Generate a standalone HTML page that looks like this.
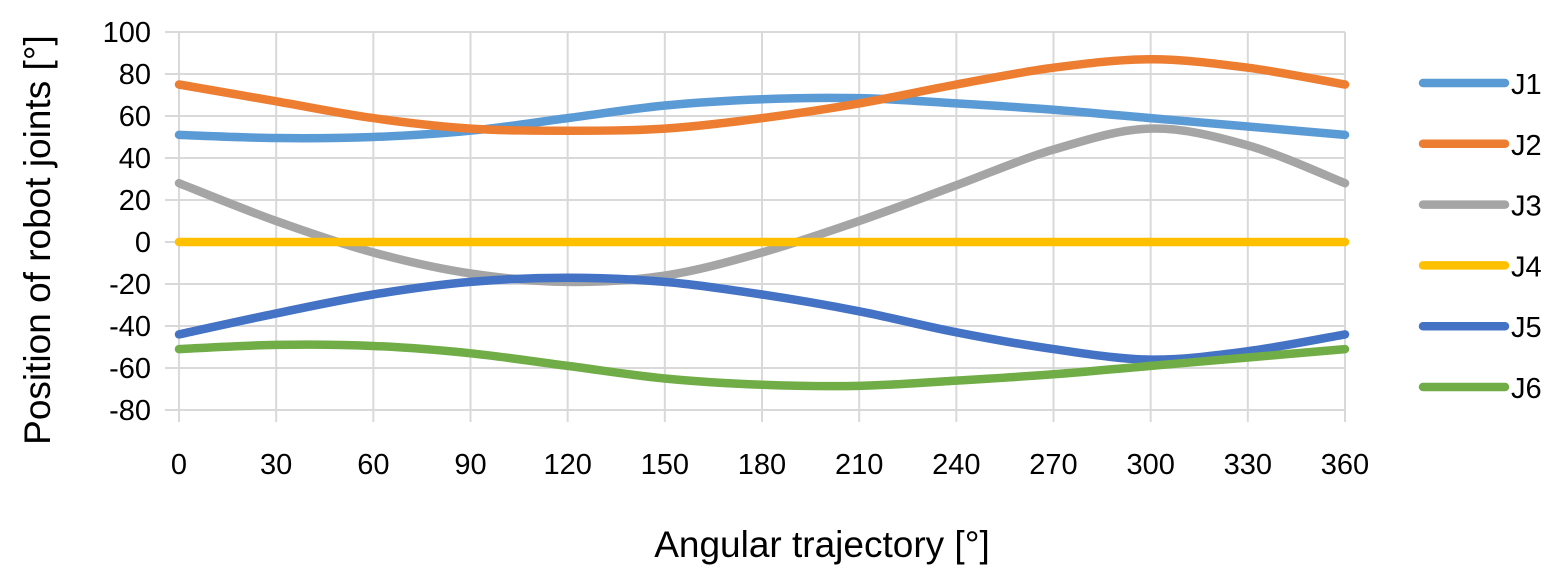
<!DOCTYPE html>
<html><head><meta charset="utf-8"><style>
body{margin:0;background:#fff;}
svg text{font-family:"Liberation Sans",sans-serif;fill:#000;}
</style></head><body>
<svg id="s" width="1551" height="574" xmlns="http://www.w3.org/2000/svg">
<g id="grid" stroke="#d9d9d9" stroke-width="2"></g>
<g id="lab" font-size="29"></g>
<g id="ser" fill="none" stroke-width="8.5" stroke-linecap="round" stroke-linejoin="round"></g>
<text x="822" y="557" font-size="37" text-anchor="middle">Angular trajectory [°]</text>
<text transform="translate(50,240) rotate(-90)" font-size="37" text-anchor="middle">Position of robot joints [°]</text>
<g id="leg" font-size="29"></g>
</svg>
<script>
const X=v=>179+v*(1345-179)/360, Y=v=>32+(100-v)*2.1;
const g=document.getElementById('grid'),lab=document.getElementById('lab');
let h='',t='';
for(let v=-80;v<=100;v+=20){h+=`<line x1="${X(0)-14}" x2="${X(360)}" y1="${Y(v)}" y2="${Y(v)}"/>`;t+=`<text x="${X(0)-28}" y="${Y(v)+10}" text-anchor="end">${v}</text>`;}
for(let a=0;a<=360;a+=30){h+=`<line x1="${X(a)}" x2="${X(a)}" y1="${Y(100)}" y2="${Y(-80)+12}"/>`;t+=`<text x="${X(a)}" y="${Y(-80)+64}" text-anchor="middle">${a}</text>`;}
g.innerHTML=h;lab.innerHTML=t;
const D={
J1:['#5b9bd5',[51,49.5,50,53,59,65,68,68.5,66,63,59,55,51]],
J2:['#ed7d31',[75,67,59,54,53,54,59,66,75,83,87,83,75]],
J3:['#a5a5a5',[28,10,-5,-15,-19,-16,-5,10,27,44,54,46,28]],
J4:['#ffc000',[0,0,0,0,0,0,0,0,0,0,0,0,0]],
J5:['#4472c4',[-44,-34,-25,-19,-17,-19,-25,-33,-43,-51,-56,-52,-44]],
J6:['#70ad47',[-51,-49,-49.5,-53,-59,-65,-68,-68.5,-66,-63,-59,-55,-51]]};
let s='',l='',i=0;
for(const k in D){const [c,v]=D[k];const p=v.map((y,j)=>[X(j*30),Y(y)]);
let d=`M${p[0]}`;for(let j=0;j<p.length-1;j++){const p0=p[Math.max(0,j-1)],p1=p[j],p2=p[j+1],p3=p[Math.min(p.length-1,j+2)];
d+=`C${p1[0]+(p2[0]-p0[0])/6},${p1[1]+(p2[1]-p0[1])/6} ${p2[0]-(p3[0]-p1[0])/6},${p2[1]-(p3[1]-p1[1])/6} ${p2[0]},${p2[1]}`;}
s+=`<path d="${d}" stroke="${c}"/>`;
const ly=83+i*60.8;l+=`<line x1="1423" x2="1505" y1="${ly}" y2="${ly}" stroke="${c}" stroke-width="8.5" stroke-linecap="round"/><text x="1511" y="${ly+11}">${k}</text>`;i++;}
document.getElementById('ser').innerHTML=s;document.getElementById('leg').innerHTML=l;
</script>
</body></html>
